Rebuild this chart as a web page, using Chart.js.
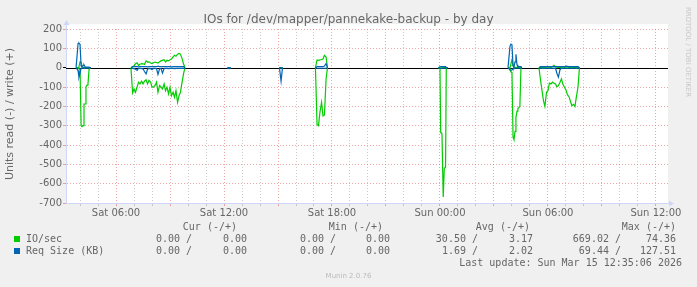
<!DOCTYPE html>
<html>
<head>
<meta charset="utf-8">
<script src="https://cdn.jsdelivr.net/npm/chart.js"></script>
<style>
  html, body { margin: 0; padding: 0; background: #F0F0F0; }
  #wrap { position: relative; width: 697px; height: 287px; overflow: hidden; font-family: 'DejaVu Sans', sans-serif; color: #666666; }
  #chart { position: absolute; left: 0; top: 0; }
  .t { position: absolute; white-space: pre; }
  .mono { font-family: 'DejaVu Sans Mono', monospace; font-size: 10px; line-height: 12px; }
  .box { position: absolute; width: 6px; height: 6px; }
</style>
</head>
<body>
<div id="wrap">
  <canvas id="chart" width="697" height="287"></canvas>
  <div class="t" id="title" style="left:0;width:697px;top:12px;text-align:center;font-size:12px;line-height:14px;">IOs for /dev/mapper/pannekake-backup - by day</div>
  <div class="t" style="left:-90px;top:108px;width:200px;text-align:center;font-size:11px;line-height:12px;transform:rotate(-90deg);">Units read (-) / write (+)</div>
  <div class="t" style="left:638px;top:48px;width:100px;text-align:center;font-size:7px;line-height:8px;color:#c8c8c8;transform:rotate(90deg);">RRDTOOL / TOBI OETIKER</div>
  <div class="t" style="left:0;width:697px;top:272px;text-align:center;font-size:7px;line-height:9px;color:#bbbbbb;">Munin 2.0.76</div>
  <div id="legend"></div>
</div>
<script>
// hours since Sat 00:00; null rows split the bursts (no samples in between)
const hours = [
    3.78, 3.83, 3.89, 3.94, 4.00, 4.06, 4.11, 4.17, 4.22, 4.28, 4.33, 4.39, 4.44, 4.50, 4.56, 4.61,
    4.70,
    6.83, 6.92, 7.00, 7.08, 7.17, 7.25, 7.33, 7.42, 7.50, 7.58, 7.67, 7.75, 7.83, 7.92, 8.00, 8.08, 8.17, 8.25, 8.33,
    8.42, 8.50, 8.58, 8.67, 8.75, 8.83, 8.92, 9.00, 9.08, 9.17, 9.25, 9.33, 9.42, 9.50, 9.58, 9.67, 9.75, 9.83,
    10.0,
    12.20, 12.28, 12.36,
    12.5,
    15.08, 15.17, 15.25,
    15.4,
    17.08, 17.17, 17.25, 17.33, 17.42, 17.50, 17.58, 17.67, 17.75,
    17.9,
    23.92, 24.00, 24.04, 24.11, 24.18, 24.24, 24.31, 24.35, 24.42,
    24.5,
    27.78, 27.83, 27.89, 27.94, 28.00, 28.06, 28.11, 28.17, 28.22, 28.28, 28.33, 28.39, 28.44, 28.50, 28.56,
    28.7,
    29.50, 29.58, 29.67, 29.75, 29.83, 29.92, 30.00, 30.08, 30.17, 30.25, 30.33, 30.42, 30.50, 30.58,
    30.67, 30.75, 30.83, 30.92, 31.00, 31.08, 31.17, 31.25, 31.33, 31.42, 31.50, 31.58, 31.67, 31.75
];

// IO/sec read (drawn below zero)
const ioRead = [
    0, 0, 0, 5, 10, 300, 305, 300, 188, 188, 100, 90, 85, 10, 0, 0,
    null,
    0, 130, 110, 127, 100, 75, 84, 70, 84, 70, 63, 84, 66, 75, 101, 101, 92, 75, 127,
    92, 101, 110, 84, 119, 101, 136, 101, 145, 127, 153, 119, 179, 145, 127, 75, 32, 0,
    null,
    0, 0, 0,
    null,
    0, 0, 0,
    null,
    0, 295, 300, 230, 180, 250, 245, 60, 0,
    null,
    0, 5, 336, 340, 669, 520, 515, 0, 0,
    null,
    0, 0, 5, 23, 25, 360, 372, 330, 258, 225, 210, 206, 200, 0, 0,
    null,
    0, 60, 119, 171, 200, 127, 119, 80, 84, 75, 80, 84, 99, 93,
    75, 58, 86, 101, 115, 140, 150, 175, 197, 190, 201, 150, 100, 0
];

// IO/sec write
const ioWrite = [
    0, 0, 0, 5, 30, 28, 5, 3, 0, 0, 0, 0, 0, 0, 0, 0,
    null,
    0, 3, 10, 20, 25, 12, 18, 21, 20, 17, 35, 29, 30, 24, 21, 25, 29, 27, 24,
    30, 35, 38, 41, 29, 38, 35, 41, 45, 56, 64, 59, 70, 74, 70, 47, 20, 0,
    null,
    0, 0, 0,
    null,
    0, 0, 0,
    null,
    0, 40, 38, 40, 42, 45, 64, 55, 0,
    null,
    0, 2, 3, 3, 2, 2, 2, 0, 0,
    null,
    0, 0, 0, 20, 41, 10, 3, 2, 2, 2, 2, 2, 2, 0, 0,
    null,
    0, 2, 3, 2, 2, 3, 4, 3, 2, 5, 12, 4, 3, 2,
    2, 3, 3, 2, 4, 3, 2, 2, 3, 2, 3, 2, 2, 0
];

// Req Size (KB) read
const reqRead = [
    0, 0, 15, 50, 30, 3, 2, 2, 2, 2, 2, 2, 2, 2, 0, 0,
    null,
    0, 4, 5, 8, 14, 4, 4, 5, 6, 20, 32, 8, 4, 5, 10, 4, 4, 5, 35,
    6, 4, 28, 5, 4, 4, 5, 4, 4, 4, 5, 4, 4, 4, 4, 4, 4, 0,
    null,
    0, 6, 0,
    null,
    0, 69.4, 0,
    null,
    0, 3, 3, 3, 3, 3, 3, 3, 0,
    null,
    0, 3, 4, 4, 3, 3, 3, 0, 0,
    null,
    0, 0, 12, 14, 12, 5, 3, 3, 3, 3, 3, 3, 3, 3, 0,
    null,
    0, 3, 4, 3, 4, 3, 3, 4, 3, 3, 4, 3, 30, 49,
    10, 3, 4, 3, 3, 4, 3, 3, 4, 3, 3, 4, 3, 0
];

// Req Size (KB) write
const reqWrite = [
    0, 0, 125, 127.5, 120, 8, 3, 12, 15, 5, 3, 3, 3, 3, 0, 0,
    null,
    0, 5, 6, 5, 5, 4, 5, 6, 5, 5, 5, 4, 5, 6, 5, 5, 5, 5, 8,
    5, 5, 5, 6, 5, 5, 5, 5, 4, 5, 5, 5, 6, 5, 5, 5, 5, 0,
    null,
    0, 0, 0,
    null,
    0, 0, 0,
    null,
    0, 5, 5, 5, 5, 5, 8, 21, 0,
    null,
    0, 5, 6, 5, 5, 5, 5, 0, 0,
    null,
    0, 0, 110, 122, 118, 10, 5, 30, 69, 15, 5, 5, 5, 5, 0,
    null,
    0, 5, 5, 5, 5, 5, 5, 5, 5, 5, 5, 5, 5, 5,
    5, 5, 5, 5, 8, 7, 5, 5, 5, 5, 5, 5, 5, 0
];

const xTickHours = [6, 12, 18, 24, 30, 36];
const xTickLabels = ['Sat 06:00', 'Sat 12:00', 'Sat 18:00', 'Sun 00:00', 'Sun 06:00', 'Sun 12:00'];

// legend table: [read, write] for cur, min, avg, max
const statHeads = ['Cur (-/+)', 'Min (-/+)', 'Avg (-/+)', 'Max (-/+)'];
const ioSecStats = [[0.00, 0.00], [0.00, 0.00], [30.50, 3.17], [669.02, 74.36]];
const reqSizeStats = [[0.00, 0.00], [0.00, 0.00], [1.69, 2.02], [69.44, 127.51]];
const lastUpdate = 'Last update: Sun Mar 15 12:35:06 2026';

const GREEN = '#00CC00';
const BLUE = '#0066B3';
const GRID = 'rgba(143,143,143,0.45)';
const MGRID = 'rgba(222,79,79,0.5)';
const AXIS = '#CFD6F8';

Chart.defaults.font.family = "'DejaVu Sans', sans-serif";
Chart.defaults.font.size = 10;
Chart.defaults.color = '#666666';

function series(values, sign) {
    return hours.map((h, i) => ({ x: h, y: values[i] === null ? null : sign * values[i] }));
}

function line(label, values, sign, color, order) {
    return {
        label: label,
        data: series(values, sign),
        borderColor: color,
        borderWidth: 1.2,
        pointRadius: 0,
        tension: 0,
        spanGaps: false,
        order: order
    };
}

const muninLook = {
    id: 'muninLook',
    beforeDraw(chart) {
        const a = chart.chartArea;
        const ctx = chart.ctx;
        ctx.save();
        ctx.fillStyle = '#FFFFFF';
        ctx.fillRect(a.left, a.top - 5, a.right - a.left, a.bottom - a.top + 5);
        ctx.restore();
    },
    beforeDatasetsDraw(chart) {
        const a = chart.chartArea;
        const ctx = chart.ctx;
        const y = Math.round(chart.scales.y.getPixelForValue(0)) + 0.5;
        ctx.save();
        ctx.strokeStyle = '#000000';
        ctx.lineWidth = 1;
        ctx.beginPath();
        ctx.moveTo(a.left, y);
        ctx.lineTo(a.right, y);
        ctx.stroke();
        ctx.restore();
    },
    afterDraw(chart) {
        const a = chart.chartArea;
        const ctx = chart.ctx;
        const l = Math.round(a.left) + 0.5;
        const b = Math.round(a.bottom) + 0.5;
        ctx.save();
        ctx.strokeStyle = AXIS;
        ctx.fillStyle = AXIS;
        ctx.lineWidth = 1;
        ctx.beginPath();
        ctx.moveTo(l, a.top);
        ctx.lineTo(l, a.top - 4);
        ctx.moveTo(a.right, b);
        ctx.lineTo(a.right + 2, b);
        ctx.stroke();
        ctx.beginPath();
        ctx.moveTo(l - 3, a.top - 4);
        ctx.lineTo(l + 3, a.top - 4);
        ctx.lineTo(l, a.top - 9);
        ctx.closePath();
        ctx.fill();
        ctx.beginPath();
        ctx.moveTo(a.right + 1, b - 3);
        ctx.lineTo(a.right + 1, b + 3);
        ctx.lineTo(a.right + 6, b);
        ctx.closePath();
        ctx.fill();
        ctx.restore();
    }
};

const xTicks = [];
for (let h = 4; h <= 36; h++) xTicks.push(h);
const yTicks = [];
for (let v = -700; v <= 200; v += 50) yTicks.push(v);

new Chart(document.getElementById('chart'), {
    type: 'line',
    data: {
        datasets: [
            line('Req Size write', reqWrite, 1, BLUE, 0),
            line('Req Size read', reqRead, -1, BLUE, 1),
            line('IO/sec write', ioWrite, 1, GREEN, 2),
            line('IO/sec read', ioRead, -1, GREEN, 3)
        ]
    },
    options: {
        responsive: false,
        animation: false,
        devicePixelRatio: 1,
        layout: { padding: { left: 0, top: 29, right: 29, bottom: 64 } },
        plugins: { legend: { display: false }, tooltip: { enabled: false } },
        scales: {
            x: {
                type: 'linear',
                min: 3.22,
                max: 36.67,
                afterBuildTicks: s => { s.ticks = xTicks.map(v => ({ value: v })); },
                afterFit: s => { s.height = 20; },
                ticks: {
                    autoSkip: false,
                    maxRotation: 0,
                    padding: 1,
                    callback: v => {
                        const i = xTickHours.indexOf(v);
                        return i >= 0 ? xTickLabels[i] : '';
                    }
                },
                grid: {
                    color: c => c.tick.value % 3 === 0 ? MGRID : GRID,
                    tickColor: c => c.tick.value % 3 === 0 ? MGRID : GRID,
                    tickLength: 3
                },
                border: { color: AXIS, dash: [1, 2] }
            },
            y: {
                min: -700,
                max: 200,
                afterBuildTicks: s => { s.ticks = yTicks.map(v => ({ value: v })); },
                afterFit: s => { s.width = 66; },
                ticks: {
                    padding: 1,
                    callback: v => v % 100 === 0 ? String(v) : ''
                },
                grid: {
                    color: c => (c.tick.value === 0 || c.tick.value === -700) ? 'rgba(0,0,0,0)' : (c.tick.value % 100 === 0 ? MGRID : GRID),
                    tickColor: c => c.tick.value === 0 ? '#000000' : (c.tick.value % 100 === 0 ? MGRID : GRID),
                    tickLength: 3
                },
                border: { color: AXIS, dash: [1, 2] }
            }
        }
    },
    plugins: [muninLook]
});

// legend table under the graph
const legend = document.getElementById('legend');
function put(text, rightEdge, centerY, color) {
    const d = document.createElement('div');
    d.className = 't mono';
    d.textContent = text;
    d.style.right = (697 - rightEdge) + 'px';
    d.style.top = (centerY - 6) + 'px';
    if (color) d.style.color = color;
    legend.appendChild(d);
}
const readRight = [192, 336, 478, 621];
const writeRight = [247, 390, 533, 676];
const headRight = [237, 383, 530, 676];
statHeads.forEach((h, i) => put(h, headRight[i], 227));
[[ 'IO/sec', ioSecStats, GREEN, 239 ], [ 'Req Size (KB)', reqSizeStats, BLUE, 251 ]].forEach(row => {
    const [name, stats, color, y] = row;
    const box = document.createElement('div');
    box.className = 'box';
    box.style.left = '14px';
    box.style.top = (y - 3) + 'px';
    box.style.background = color;
    legend.appendChild(box);
    const n = document.createElement('div');
    n.className = 't mono';
    n.textContent = name;
    n.style.left = '26px';
    n.style.top = (y - 6) + 'px';
    legend.appendChild(n);
    stats.forEach((s, i) => {
        put(s[0].toFixed(2) + ' /', readRight[i], y);
        put(s[1].toFixed(2), writeRight[i], y);
    });
});
put(lastUpdate, 682, 263);
</script>
</body>
</html>
